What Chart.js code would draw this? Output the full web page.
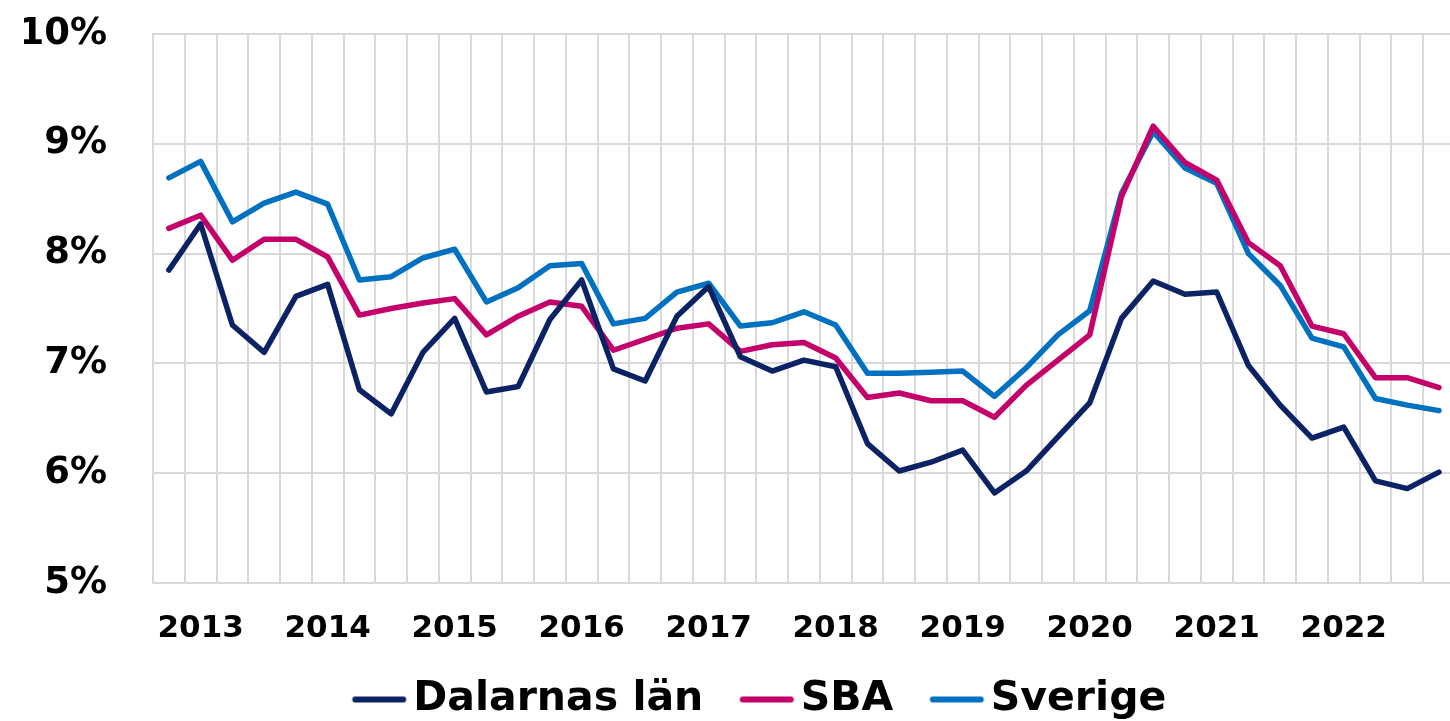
<!DOCTYPE html>
<html>
<head>
<meta charset="utf-8">
<script src="https://cdn.jsdelivr.net/npm/chart.js@4/dist/chart.umd.min.js"></script>
<style>
  html, body { margin: 0; padding: 0; background: #ffffff; overflow: hidden; }
  #wrap { position: relative; width: 1466px; height: 721px; }
</style>
</head>
<body>
<div id="wrap"><canvas id="c"></canvas></div>
<script>
// Quarters (Swedish "K" = kvartal)
const quarters = [
  "2012 K4",
  "2013 K1","2013 K2","2013 K3","2013 K4",
  "2014 K1","2014 K2","2014 K3","2014 K4",
  "2015 K1","2015 K2","2015 K3","2015 K4",
  "2016 K1","2016 K2","2016 K3","2016 K4",
  "2017 K1","2017 K2","2017 K3","2017 K4",
  "2018 K1","2018 K2","2018 K3","2018 K4",
  "2019 K1","2019 K2","2019 K3","2019 K4",
  "2020 K1","2020 K2","2020 K3","2020 K4",
  "2021 K1","2021 K2","2021 K3","2021 K4",
  "2022 K1","2022 K2","2022 K3","2022 K4"
];

// Year tick labels, shown at the first quarter of each year
const yearLabels = ["2013","2014","2015","2016","2017","2018","2019","2020","2021","2022"];

// Series values (%)
const dalarnas = [
  7.85, 8.27, 7.35, 7.10, 7.61, 7.72, 6.76, 6.54, 7.10, 7.41,
  6.74, 6.79, 7.40, 7.76, 6.95, 6.84, 7.43, 7.70, 7.06, 6.93,
  7.03, 6.97, 6.27, 6.02, 6.10, 6.21, 5.82, 6.02, 6.33, 6.64,
  7.41, 7.75, 7.63, 7.65, 6.98, 6.62, 6.32, 6.42, 5.93, 5.86,
  6.01
];
const sba = [
  8.23, 8.35, 7.94, 8.13, 8.13, 7.97, 7.44, 7.50, 7.55, 7.59,
  7.26, 7.43, 7.56, 7.52, 7.12, 7.22, 7.32, 7.36, 7.11, 7.17,
  7.19, 7.05, 6.69, 6.73, 6.66, 6.66, 6.51, 6.80, 7.03, 7.26,
  8.52, 9.16, 8.83, 8.67, 8.10, 7.89, 7.34, 7.27, 6.87, 6.87,
  6.78
];
const sverige = [
  8.69, 8.84, 8.29, 8.46, 8.56, 8.45, 7.76, 7.79, 7.96, 8.04,
  7.56, 7.69, 7.89, 7.91, 7.36, 7.41, 7.65, 7.73, 7.34, 7.37,
  7.47, 7.35, 6.91, 6.91, 6.92, 6.93, 6.70, 6.96, 7.26, 7.48,
  8.55, 9.11, 8.78, 8.64, 8.00, 7.71, 7.23, 7.15, 6.68, 6.62,
  6.57
];

// Y axis ticks
const yTicks = [5, 6, 7, 8, 9, 10];

const seriesNames = ["Dalarnas län", "SBA", "Sverige"];
const seriesColors = ["#0b2265", "#c4006a", "#0070c0"];
const seriesData = [dalarnas, sba, sverige];

const FONT = "'DejaVu Sans', sans-serif";

// Legend swatch geometry
const LEG_BOX = 70;        // layout width of the legend box
const LEG_FONT = 41;
const LEG_LINE = 48;       // line length without caps
const LEG_GAP = 7;         // gap from line end (with cap) to text
const IMG_W = 160;
const PAD_LEFT = 24;

// Legend swatch image: rounded line ending just before the label text.
function swatch(color) {
  const c = document.createElement('canvas');
  c.width = IMG_W; c.height = 10;
  const g = c.getContext('2d');
  const textStart = LEG_BOX + LEG_FONT / 2 - LEG_BOX / 2 + IMG_W / 2;
  const x2 = textStart - LEG_GAP - 3;
  const x1 = x2 - LEG_LINE;
  g.strokeStyle = color;
  g.lineWidth = 6;
  g.lineCap = 'round';
  g.beginPath();
  g.moveTo(x1, 5);
  g.lineTo(x2, 5);
  g.stroke();
  return c;
}

const datasets = seriesData.map((d, i) => ({
  label: seriesNames[i],
  data: d,
  borderColor: seriesColors[i],
  backgroundColor: seriesColors[i],
  borderWidth: 5.5,
  borderJoinStyle: 'round',
  borderCapStyle: 'round',
  pointRadius: 0,
  pointHoverRadius: 0,
  pointStyle: swatch(seriesColors[i]),
  tension: 0,
  fill: false
}));

new Chart(document.getElementById('c'), {
  type: 'line',
  data: { labels: quarters, datasets: datasets },
  options: {
    responsive: true,
    maintainAspectRatio: false,
    animation: false,
    events: [],
    layout: { padding: { top: 34, right: 1, bottom: -9, left: PAD_LEFT } },
    plugins: {
      tooltip: { enabled: false },
      legend: {
        position: 'bottom',
        labels: {
          usePointStyle: true,
          pointStyleWidth: LEG_BOX,
          color: '#000000',
          padding: 7,
          font: { family: FONT, size: LEG_FONT, weight: 'bold' }
        }
      }
    },
    scales: {
      x: {
        offset: true,
        grid: { offset: true, color: '#d9d9d9', lineWidth: 2, drawTicks: false },
        border: { color: '#d9d9d9', width: 2 },
        afterFit: (s) => { s.height = 89; },
        ticks: {
          autoSkip: false,
          maxRotation: 0,
          minRotation: 0,
          padding: 27,
          color: '#000000',
          font: { family: FONT, size: 31, weight: 'bold' },
          callback: function(value, index) {
            const q = quarters[index];
            if (q.endsWith('K1')) {
              const y = q.slice(0, 4);
              return yearLabels.includes(y) ? y : '';
            }
            return '';
          }
        }
      },
      y: {
        min: 5,
        max: 10,
        afterBuildTicks: (s) => { s.ticks = yTicks.map(v => ({ value: v })); },
        afterFit: (s) => { s.width = 153 - PAD_LEFT; },
        grid: { color: '#d9d9d9', lineWidth: 2, drawTicks: true, tickLength: 46, tickColor: 'rgba(0,0,0,0)' },
        border: { color: '#d9d9d9', width: 2 },
        ticks: {
          padding: 0,
          color: '#000000',
          font: { family: FONT, size: 37, weight: 'bold' },
          callback: (v) => v + '%'
        }
      }
    }
  }
});
</script>
</body>
</html>
